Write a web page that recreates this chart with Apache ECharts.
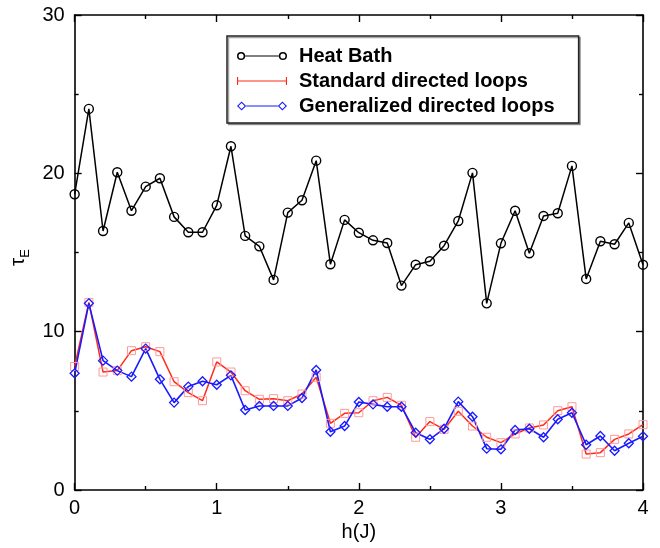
<!DOCTYPE html>
<html>
<head>
<meta charset="utf-8">
<script src="https://cdn.jsdelivr.net/npm/echarts@6/dist/echarts.min.js"></script>
<style>
html,body{margin:0;padding:0;background:#fff;}
#chart{width:660px;height:548px;}
</style>
</head>
<body>
<div id="chart"></div>
<script>
const hValues = [0.0,0.1,0.2,0.3,0.4,0.5,0.6,0.7,0.8,0.9,1.0,1.1,1.2,1.3,1.4,1.5,1.6,1.7,1.8,1.9,2.0,2.1,2.2,2.3,2.4,2.5,2.6,2.7,2.8,2.9,3.0,3.1,3.2,3.3,3.4,3.5,3.6,3.7,3.8,3.9,4.0];
const heatBath = [18.68,24.07,16.36,20.07,17.64,19.16,19.69,17.25,16.28,16.28,17.98,21.71,16.05,15.39,13.27,17.52,18.3,20.8,14.26,17.06,16.25,15.77,15.6,12.91,14.23,14.45,15.43,16.99,20.03,11.79,15.58,17.64,14.95,17.31,17.48,20.47,13.33,15.71,15.52,16.87,14.23];
const standardLoops = [7.8,11.85,7.45,7.54,8.8,9.05,8.74,6.84,6.15,5.64,8.09,7.45,6.27,5.73,5.77,5.64,6.06,7.12,4.21,4.84,4.88,5.64,5.85,5.35,3.33,4.32,3.83,4.97,4.04,3.33,2.99,3.54,3.92,4.11,5.01,5.26,2.27,2.36,3.2,3.54,4.13];
const generalizedLoops = [7.37,11.79,8.17,7.54,7.16,8.93,6.99,5.52,6.53,6.87,6.65,7.24,5.05,5.31,5.31,5.31,5.81,7.58,3.68,4.04,5.56,5.41,5.26,5.26,3.62,3.2,3.87,5.58,4.63,2.61,2.57,3.79,3.87,3.33,4.47,4.88,2.86,3.41,2.48,2.95,3.39];
const seriesNames = ['Heat Bath','Standard directed loops','Generalized directed loops'];
const xTickLabels = ['0','1','2','3','4'];
const yTickLabels = ['0','10','20','30'];

const pair = arr => arr.map((v,i)=>[hValues[i], v]);
const FONT = 'Liberation Sans, Arial, Helvetica, sans-serif';

const iconCircle = 'path://M0.5,5 A4,4 0 1,1 8.5,5 A4,4 0 1,1 0.5,5 Z M2,5 A2.5,2.5 0 1,0 7,5 A2.5,2.5 0 1,0 2,5 Z M8.5,4.5 L41.5,4.5 L41.5,5.5 L8.5,5.5 Z M41.5,5 A4,4 0 1,1 49.5,5 A4,4 0 1,1 41.5,5 Z M43,5 A2.5,2.5 0 1,0 48,5 A2.5,2.5 0 1,0 43,5 Z';
const iconBar = 'path://M0.5,1 L1.6,1 L1.6,4.5 L48.4,4.5 L48.4,1 L49.5,1 L49.5,9 L48.4,9 L48.4,5.5 L1.6,5.5 L1.6,9 L0.5,9 Z';
const iconDiamond = 'path://M0.5,5 L5,0.5 L9.5,5 L5,9.5 Z M2,5 L5,8 L8,5 L5,2 Z M9.5,4.5 L40.5,4.5 L40.5,5.5 L9.5,5.5 Z M40.5,5 L45,0.5 L49.5,5 L45,9.5 Z M42,5 L45,8 L48,5 L45,2 Z';

const axisCommon = {
  type:'value',
  axisLine:{show:true, onZero:false, lineStyle:{color:'#000', width:1.6}},
  axisTick:{show:true, inside:true, length:7, lineStyle:{color:'#000', width:1.4}},
  minorTick:{show:true, splitNumber:2, length:4, lineStyle:{color:'#000', width:1.4}},
  splitLine:{show:false},
  minorSplitLine:{show:false}
};

const chart = echarts.init(document.getElementById('chart'));
chart.setOption({
  animation:false,
  backgroundColor:'#fff',
  grid:{left:72.5, right:17, top:15, bottom:58, containLabel:false},
  xAxis:[
    Object.assign({}, axisCommon, {
      position:'bottom', min:0, max:4, interval:1,
      name:'h(J)', nameLocation:'middle', nameGap:21,
      nameTextStyle:{fontFamily:FONT, fontSize:20, color:'#000', verticalAlign:'top'},
      axisLabel:{margin:8, fontFamily:FONT, fontSize:20, color:'#000',
        formatter:v => { const k = xTickLabels.indexOf(String(v)); return k>=0 ? xTickLabels[k] : ''; }}
    }),
    Object.assign({}, axisCommon, {position:'top', min:0, max:4, interval:1, axisLabel:{show:false}})
  ],
  yAxis:[
    Object.assign({}, axisCommon, {
      position:'left', min:0, max:30, interval:10,
      name:'{a|τ}{b|E}', nameLocation:'middle', nameGap:41, nameRotate:90,
      nameTextStyle:{color:'#000', padding:[0,10,0,0], rich:{
        a:{fontFamily:FONT, fontSize:21, color:'#000'},
        b:{fontFamily:FONT, fontSize:13, color:'#000', padding:[13,0,0,0]}
      }},
      axisLabel:{margin:10, fontFamily:FONT, fontSize:20, color:'#000',
        formatter:v => { const k = yTickLabels.indexOf(String(v)); return k>=0 ? yTickLabels[k] : ''; }}
    }),
    Object.assign({}, axisCommon, {position:'right', min:0, max:30, interval:10, axisLabel:{show:false}})
  ],
  legend:{
    orient:'vertical', left:227, top:36,
    padding:[10,24,7,10], itemGap:5, itemWidth:50, itemHeight:10,
    backgroundColor:'#fff', borderColor:'#222', borderWidth:1.5, borderRadius:0,
    shadowColor:'rgba(0,0,0,0.35)', shadowOffsetX:1.5, shadowOffsetY:1.5, shadowBlur:0,
    textStyle:{fontFamily:FONT, fontSize:20, fontWeight:'bold', color:'#000', lineHeight:20, padding:[0,0,0,7]},
    data:[
      {name:seriesNames[0], icon:iconCircle, itemStyle:{color:'#000', borderWidth:0}},
      {name:seriesNames[1], icon:iconBar, itemStyle:{color:'#ff2a1a', borderWidth:0}},
      {name:seriesNames[2], icon:iconDiamond, itemStyle:{color:'#1a1aff', borderWidth:0}}
    ]
  },
  series:[
    {
      name:seriesNames[0], type:'line', xAxisIndex:0, yAxisIndex:0,
      data:pair(heatBath),
      symbol:'circle', symbolSize:9,
      itemStyle:{color:'rgba(255,255,255,0)', borderColor:'#000', borderWidth:1.4},
      lineStyle:{color:'#000', width:1.5}
    },
    {
      name:seriesNames[1], type:'line', xAxisIndex:0, yAxisIndex:0,
      data:pair(standardLoops),
      symbol:'rect', symbolSize:8,
      itemStyle:{color:'rgba(255,255,255,0)', borderColor:'#ff9a9a', borderWidth:1},
      lineStyle:{color:'#ff2a1a', width:1.5}
    },
    {
      name:seriesNames[2], type:'line', xAxisIndex:0, yAxisIndex:0,
      data:pair(generalizedLoops),
      symbol:'diamond', symbolSize:9,
      itemStyle:{color:'rgba(255,255,255,0)', borderColor:'#1a1aff', borderWidth:1.3},
      lineStyle:{color:'#1a1aff', width:1.6}
    }
  ]
});
</script>
</body>
</html>
